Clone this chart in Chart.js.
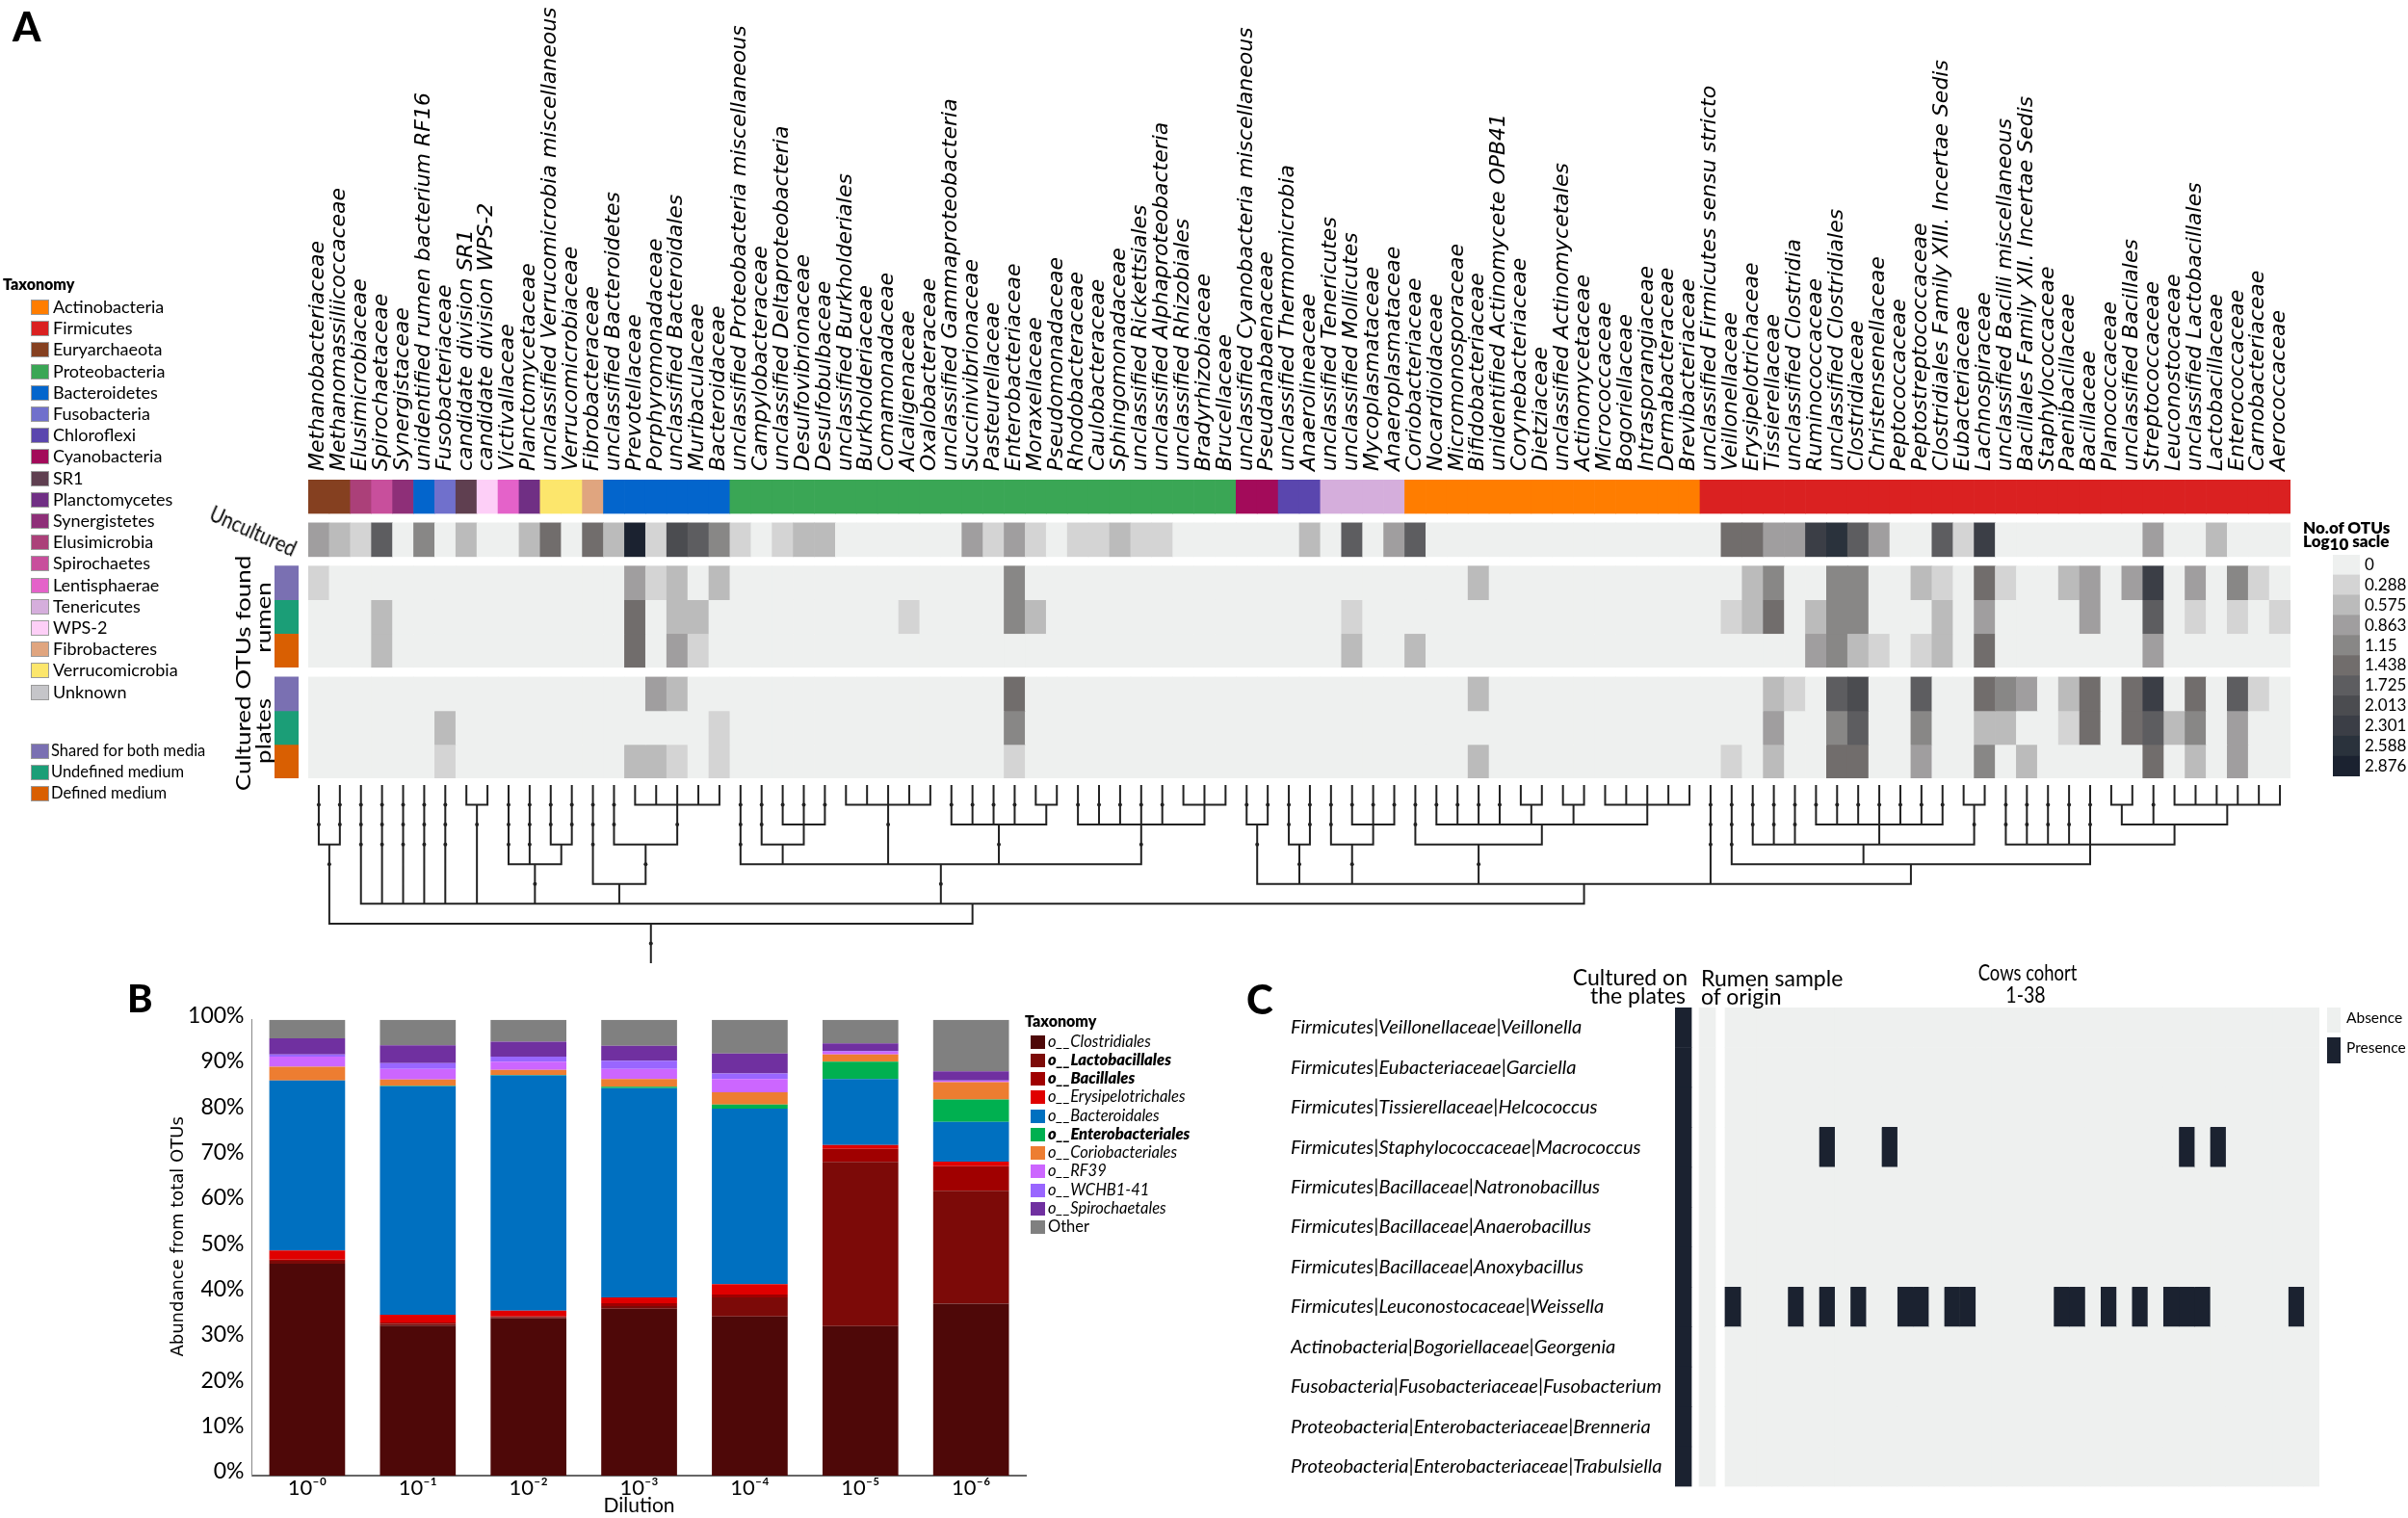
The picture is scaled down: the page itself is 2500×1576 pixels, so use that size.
<!DOCTYPE html>
<html><head><meta charset="utf-8">
<style>
html,body{margin:0;padding:0;background:#fff;width:2500px;height:1576px;overflow:hidden}
canvas{position:absolute;left:0;top:0}
.t{position:absolute;white-space:nowrap;font-family:Lato,sans-serif;color:#000;line-height:1}
.s{position:absolute;box-sizing:border-box}
sub{font-size:1em;line-height:0;vertical-align:-0.18em}
</style>
<script src="https://cdn.jsdelivr.net/npm/chart.js@4"></script>
</head><body>
<script>
/* ---------- DATA ---------- */
const families = ["Methanobacteriaceae","Methanomassiliicoccaceae","Elusimicrobiaceae","Spirochaetaceae","Synergistaceae","unidentified rumen bacterium RF16","Fusobacteriaceae","candidate division SR1","candidate division WPS-2","Victivallaceae","Planctomycetaceae","unclassified Verrucomicrobia miscellaneous","Verrucomicrobiaceae","Fibrobacteraceae","unclassified Bacteroidetes","Prevotellaceae","Porphyromonadaceae","unclassified Bacteroidales","Muribaculaceae","Bacteroidaceae","unclassified Proteobacteria miscellaneous","Campylobacteraceae","unclassified Deltaproteobacteria","Desulfovibrionaceae","Desulfobulbaceae","unclassified Burkholderiales","Burkholderiaceae","Comamonadaceae","Alcaligenaceae","Oxalobacteraceae","unclassified Gammaproteobacteria","Succinivibrionaceae","Pasteurellaceae","Enterobacteriaceae","Moraxellaceae","Pseudomonadaceae","Rhodobacteraceae","Caulobacteraceae","Sphingomonadaceae","unclassified Rickettsiales","unclassified Alphaproteobacteria","unclassified Rhizobiales","Bradyrhizobiaceae","Brucellaceae","unclassified Cyanobacteria miscellaneous","Pseudanabaenaceae","unclassified Thermomicrobia","Anaerolineaceae","unclassified Tenericutes","unclassified Mollicutes","Mycoplasmataceae","Anaeroplasmataceae","Coriobacteriaceae","Nocardioidaceae","Micromonosporaceae","Bifidobacteriaceae","unidentified Actinomycete OPB41","Corynebacteriaceae","Dietziaceae","unclassified Actinomycetales","Actinomycetaceae","Micrococcaceae","Bogoriellaceae","Intrasporangiaceae","Dermabacteraceae","Brevibacteriaceae","unclassified Firmicutes sensu stricto","Veillonellaceae","Erysipelotrichaceae","Tissierellaceae","unclassified Clostridia","Ruminococcaceae","unclassified Clostridiales","Clostridiaceae","Christensenellaceae","Peptococcaceae","Peptostreptococcaceae","Clostridiales Family XIII. Incertae Sedis","Eubacteriaceae","Lachnospiraceae","unclassified Bacilli miscellaneous","Bacillales Family XII. Incertae Sedis","Staphylococcaceae","Paenibacillaceae","Bacillaceae","Planococcaceae","unclassified Bacillales","Streptococcaceae","Leuconostocaceae","unclassified Lactobacillales","Lactobacillaceae","Enterococcaceae","Carnobacteriaceae","Aerococcaceae"];
const phylumNames = ["Actinobacteria","Firmicutes","Euryarchaeota","Proteobacteria","Bacteroidetes","Fusobacteria","Chloroflexi","Cyanobacteria","SR1","Planctomycetes","Synergistetes","Elusimicrobia","Spirochaetes","Lentisphaerae","Tenericutes","WPS-2","Fibrobacteres","Verrucomicrobia","Unknown"];
const phylumColors = ["#ff7d00","#da2121","#854020","#3aa655","#0365cc","#7070cc","#5a46ae","#a30b5a","#5f3f50","#702f84","#8e2f78","#ab4079","#c84f9c","#e462c9","#d5aedc","#fdcff7","#e0a57f","#fce66c","#c5c5c9"];
const phylumRuns = [["Euryarchaeota",2],["Elusimicrobia",1],["Spirochaetes",1],["Synergistetes",1],["Bacteroidetes",1],["Fusobacteria",1],["SR1",1],["WPS-2",1],["Lentisphaerae",1],["Planctomycetes",1],["Verrucomicrobia",2],["Fibrobacteres",1],["Bacteroidetes",6],["Proteobacteria",24],["Cyanobacteria",2],["Chloroflexi",2],["Tenericutes",4],["Actinobacteria",14],["Firmicutes",28]];
const scaleLabels = ["0","0.288","0.575","0.863","1.15","1.438","1.725","2.013","2.301","2.588","2.876"];
const scaleColors = ["#eef0ef","#d4d4d4","#bbbbbb","#a09e9f","#888786","#716d6c","#5d5d60","#4b4c50","#3b3e46","#2a323c","#1b2230"];
/* heat rows: [family number, colour-scale step] for the non-zero cells */
const uncultured = [[1,3],[2,2],[3,1],[4,6],[6,4],[8,2],[11,2],[12,5],[14,5],[15,2],[16,10],[17,1],[18,7],[19,6],[20,4],[21,1],[23,1],[24,2],[25,2],[32,3],[33,1],[34,3],[35,1],[37,1],[38,1],[39,2],[40,1],[41,1],[48,2],[50,6],[52,3],[53,6],[68,5],[69,5],[70,3],[71,3],[72,8],[73,9],[74,6],[75,3],[78,6],[79,1],[80,8],[88,3],[91,2]];
const rumenShared = [[1,1],[16,3],[17,1],[18,2],[20,2],[34,4],[56,2],[69,2],[70,4],[73,4],[74,4],[77,2],[78,1],[80,5],[81,1],[84,2],[85,3],[87,3],[88,8],[90,3],[92,4],[93,1]];
const rumenUndefined = [[4,2],[16,5],[18,2],[19,2],[29,1],[34,4],[35,2],[50,1],[68,1],[69,2],[70,5],[72,2],[73,4],[74,4],[78,2],[80,3],[85,3],[88,6],[90,1],[92,1],[94,1]];
const rumenDefined = [[4,2],[16,5],[18,3],[19,1],[50,2],[53,2],[72,3],[73,4],[74,2],[75,1],[77,1],[78,2],[80,5],[88,3]];
const platesShared = [[17,3],[18,2],[34,5],[56,2],[70,2],[71,1],[73,6],[74,7],[77,6],[80,5],[81,4],[82,3],[84,2],[85,5],[87,5],[88,8],[90,5],[92,6],[93,1]];
const platesUndefined = [[7,2],[20,1],[34,4],[70,3],[73,4],[74,6],[77,4],[80,2],[81,2],[84,1],[85,5],[87,5],[88,6],[89,2],[90,4],[92,3]];
const platesDefined = [[7,1],[16,2],[17,2],[18,1],[20,1],[34,1],[56,2],[68,1],[70,2],[73,5],[74,5],[77,3],[80,4],[82,2],[88,5],[90,2],[92,3]];
const mediaNames = ["Shared for both media","Undefined medium","Defined medium"];
const mediaColors = ["#7a70b2","#1b9e77","#d95f02"];
/* dendrogram: [merge level, children...] where a child is a family number or a sub-node */
const dendrogramTree = [7,[3,1,2],[6,3,4,5,6,7,[1,8,9],[4,10,11,[3,12,13]],[5,14,[3,15,[1,16,17,18,19,20]]],
 [4,21,[3,22,[2,23,24,25]],[1,26,27,28,29,30],[2,31,32,33,34,[1,35,36]],[2,37,38,39,40,41,[1,42,43,44]]],
 [5,[2,45,46],[3,47,48],[3,49,[2,50,51,52]],[3,53,[2,54,55,56,57,[1,58,59],[1,60,61],[1,62,63,64,65,66]]],67,
  [4,68,[3,69,70,71,[2,72,73,74,75,76,77,78],[1,79,80]],[3,81,82,83,84,85,[2,[1,86,87],88,[1,89,90,91,92,93,94]]]]]]];
/* panel B */
const dilutions = ["10\u207B\u2070","10\u207B\u00B9","10\u207B\u00B2","10\u207B\u00B3","10\u207B\u2074","10\u207B\u2075","10\u207B\u2076"];
const orders = ["o__Clostridiales","o__Lactobacillales","o__Bacillales","o__Erysipelotrichales","o__Bacteroidales","o__Enterobacteriales","o__Coriobacteriales","o__RF39","o__WCHB1-41","o__Spirochaetales","Other"];
const orderColors = ["#4e0808","#7c0a08","#a00000","#e00000","#0070c0","#00b050","#ed7d31","#cc66ff","#9966ff","#7030a0","#808080"];
const clostridiales = [46.5,32.9,34.5,36.6,34.9,32.8,37.7];
const lactobacillales = [0.6,0.4,0.3,0.6,4.2,36,24.8];
const bacillales = [0.3,0.3,0.1,0.6,0.6,2.9,5.4];
const erysipelotrichales = [2,1.7,1.3,1.3,2.3,0.8,1];
const bacteroidales = [37.3,50.1,51.6,45.9,38.5,14.5,8.7];
const enterobacteriales = [0,0.1,0.1,0.3,0.9,3.8,4.9];
const coriobacteriales = [3,1.4,1.1,1.7,2.7,1.6,3.8];
const rf39 = [2.2,2.3,1.8,2.2,2.9,0.6,0.3];
const wchb141 = [0.5,1.3,1.1,1.8,1.2,0.2,0.1];
const spirochaetales = [3.5,3.9,3.3,3.3,4.4,1.6,2];
const other = [4.1,5.6,4.8,5.7,7.4,5.2,11.3];
/* panel C */
const genera = ["Firmicutes|Veillonellaceae|Veillonella","Firmicutes|Eubacteriaceae|Garciella","Firmicutes|Tissierellaceae|Helcococcus","Firmicutes|Staphylococcaceae|Macrococcus","Firmicutes|Bacillaceae|Natronobacillus","Firmicutes|Bacillaceae|Anaerobacillus","Firmicutes|Bacillaceae|Anoxybacillus","Firmicutes|Leuconostocaceae|Weissella","Actinobacteria|Bogoriellaceae|Georgenia","Fusobacteria|Fusobacteriaceae|Fusobacterium","Proteobacteria|Enterobacteriaceae|Brenneria","Proteobacteria|Enterobacteriaceae|Trabulsiella"];
const culturedOnPlates = [1,1,1,1,1,1,1,1,1,1,1,1];
const rumenOrigin = [0,0,0,0,0,0,0,0,0,0,0,0];
const macrococcusCows = [7,11,30,32];
const weissellaCows = [1,5,7,9,12,13,15,16,22,23,25,27,29,30,31,37];

/* ---------- HELPERS ---------- */
function makeChart(config){
  const c=document.createElement('canvas');c.width=2500;c.height=1576;c.style.width='2500px';c.style.height='1576px';
  document.body.appendChild(c);
  config.options=Object.assign({responsive:false,devicePixelRatio:1,animation:false,events:[],plugins:{legend:{display:false},tooltip:{enabled:false}}},config.options);
  return new Chart(c,config);
}
const box=(l,t,r,b)=>({left:l,top:t,right:2500-r,bottom:1576-b});
function T(html,x,y,o={}){
  const d=document.createElement('div');d.className='t';d.innerHTML=html;
  d.style.left=x+'px';d.style.top=y+'px';d.style.fontSize=(o.size||17)+'px';
  if(o.bold)d.style.fontWeight=o.bold;if(o.italic)d.style.fontStyle='italic';if(o.family)d.style.fontFamily=o.family;
  const ax=o.anchor==='c'?'-50%':(o.anchor==='r'?'-100%':'0');
  d.style.transform=`translate(${ax},-50%) rotate(${o.rot||0}deg)`+(o.sx?` scaleX(${o.sx})`:'');
  if(o.sx)d.style.transformOrigin=o.anchor==='c'?'center':(o.anchor==='r'?'right':'left');
  document.body.appendChild(d);
}
function S(x,y,w,h,col,border){
  const d=document.createElement('div');d.className='s';
  d.style.cssText+=`left:${x}px;top:${y}px;width:${w}px;height:${h}px;background:${col};`+(border?`border:1px solid ${border};`:'');
  document.body.appendChild(d);
}

/* ---------- PANEL A: heat map ---------- */
const cellPhylum=[];phylumRuns.forEach(([n,k])=>{for(let i=0;i<k;i++)cellPhylum.push(n)});
const bands={phylum:[0,1],uncultured:[1.28,2.28],rs:[2.56,3.56],ru:[3.56,4.56],rd:[4.56,5.56],ps:[5.85,6.85],pu:[6.85,7.85],pd:[7.85,8.85]};
function heatDataset(band,sparse){
  const lv=new Array(families.length).fill(0);sparse.forEach(([f,s])=>lv[f-1]=s);
  return {data:families.map(()=>band),backgroundColor:lv.map(s=>scaleColors[s]),grouped:false,barPercentage:1,categoryPercentage:1,borderWidth:0};
}
const aBandAxis={display:false,reverse:true,min:0,max:8.85};
makeChart({type:'bar',data:{labels:families,datasets:[
  {data:families.map(()=>bands.phylum),backgroundColor:cellPhylum.map(n=>phylumColors[phylumNames.indexOf(n)]),grouped:false,barPercentage:1,categoryPercentage:1,borderWidth:0},
  heatDataset(bands.uncultured,uncultured),
  heatDataset(bands.rs,rumenShared),heatDataset(bands.ru,rumenUndefined),heatDataset(bands.rd,rumenDefined),
  heatDataset(bands.ps,platesShared),heatDataset(bands.pu,platesUndefined),heatDataset(bands.pd,platesDefined)
]},options:{layout:{padding:box(320,0,2378,808)},scales:{
  x:{position:'top',grid:{display:false,drawTicks:false},border:{display:false},
     afterFit:s=>{s.height=498},
     ticks:{autoSkip:false,minRotation:90,maxRotation:90,padding:9,labelOffset:26,color:'#000',font:{family:'DejaVu Sans',style:'italic',size:22}}},
  y:aBandAxis}}});

/* media side strips */
const sideBands=[bands.rs,bands.ru,bands.rd,bands.ps,bands.pu,bands.pd];
makeChart({type:'bar',data:{labels:['media'],datasets:sideBands.map((b,i)=>({data:[b],backgroundColor:mediaColors[i%3],grouped:false,barPercentage:1,categoryPercentage:1,borderWidth:0}))},
  options:{layout:{padding:box(285,498,310,808)},scales:{x:{display:false},y:aBandAxis}}});

/* colour scale */
makeChart({type:'bar',data:{labels:scaleLabels,datasets:[{data:scaleLabels.map(()=>1),backgroundColor:scaleColors,barPercentage:1,categoryPercentage:1,borderWidth:0}]},
  options:{indexAxis:'y',layout:{padding:box(2422,576,2500,806)},scales:{
    x:{display:false,min:0,max:1},
    y:{position:'right',grid:{display:false,drawTicks:false},border:{display:false},afterFit:s=>{s.width=50},
       ticks:{padding:5,color:'#000',font:{family:'Lato',size:17},autoSkip:false}}}}});

/* dendrogram */
const segs=[],dots=[];
function walk(node){
  if(typeof node==='number')return {x:node,l:0,leaf:true};
  const lvl=node[0],kids=node.slice(1).map(walk),first=kids[0].x,last=kids[kids.length-1].x;
  kids.forEach(k=>{
    segs.push({x:k.x,y:k.l},{x:k.x,y:lvl},{x:NaN,y:NaN});
    if(k.leaf){for(let v=1;v<lvl&&v<=3;v++)dots.push({x:k.x,y:v});}
    else if(k.l+1<lvl)dots.push({x:k.x,y:k.l+1});
  });
  segs.push({x:first,y:lvl},{x:last,y:lvl},{x:NaN,y:NaN});
  return {x:(first+last)/2,l:lvl};
}
const rootNode=walk(dendrogramTree);
segs.push({x:rootNode.x,y:rootNode.l},{x:rootNode.x,y:9});
dots.push({x:rootNode.x,y:8});
makeChart({type:'scatter',data:{datasets:[
  {data:segs,showLine:true,spanGaps:false,pointRadius:0,borderColor:'#222',borderWidth:2,borderCapStyle:'square',tension:0},
  {data:dots,showLine:false,pointRadius:2,backgroundColor:'#222',borderWidth:0}]},
  options:{layout:{padding:box(320,815,2378,1000)},scales:{
    x:{display:false,type:'linear',min:0.5,max:94.5},
    y:{display:false,type:'linear',min:0,max:9,reverse:true}}}});

/* ---------- PANEL B ---------- */
const orderSeries=[clostridiales,lactobacillales,bacillales,erysipelotrichales,bacteroidales,enterobacteriales,coriobacteriales,rf39,wchb141,spirochaetales,other];
makeChart({type:'bar',data:{labels:dilutions,datasets:orderSeries.map((v,i)=>({label:orders[i],data:v,backgroundColor:orderColors[i],borderWidth:0,barPercentage:0.685,categoryPercentage:1}))},
  options:{layout:{padding:box(175,1058.7,1065.6,1576)},scales:{
    x:{stacked:true,grid:{display:false,drawTicks:false},border:{color:'#666',width:2},afterFit:s=>{s.height=44},
       title:{display:true,text:'Dilution',color:'#000',font:{family:'Lato',size:21},padding:0},
       ticks:{padding:0,color:'#000',font:{family:'Lato, DejaVu Sans',size:22}}},
    y:{stacked:true,min:0,max:100,grid:{display:false,drawTicks:false},border:{color:'#888',width:1},afterFit:s=>{s.width=86.5},
       title:{display:true,text:'    Abundance from total OTUs',color:'#000',font:{family:'DejaVu Sans',size:18},padding:0},
       ticks:{stepSize:10,padding:8,labelOffset:-4,color:'#000',font:{family:'Lato',size:23},callback:v=>v+'%'}}}}});

/* ---------- PANEL C ---------- */
const colW=1;const plateCol=[0,1.05],rumenCol=[1.54,2.59],cowStart=3.2,cowCount=38;
const cPres=scaleColors[10],cAbs=scaleColors[0];
const cDatasets=[
  {data:genera.map(()=>plateCol),backgroundColor:culturedOnPlates.map(v=>v?cPres:cAbs)},
  {data:genera.map(()=>rumenCol),backgroundColor:rumenOrigin.map(v=>v?cPres:cAbs)}];
for(let c=1;c<=cowCount;c++){
  cDatasets.push({data:genera.map(()=>[cowStart+(c-1)*colW,cowStart+c*colW]),
    backgroundColor:genera.map((g,r)=>((r===3&&macrococcusCows.includes(c))||(r===7&&weissellaCows.includes(c)))?cPres:cAbs)});
}
cDatasets.forEach(d=>Object.assign(d,{grouped:false,barPercentage:1,categoryPercentage:1,borderWidth:0}));
makeChart({type:'bar',data:{labels:genera,datasets:cDatasets},
  options:{indexAxis:'y',layout:{padding:box(1340,1046,2408,1543.5)},scales:{
    x:{display:false,type:'linear',min:0,max:41.2},
    y:{grid:{display:false,drawTicks:false},border:{display:false},afterFit:s=>{s.width=399},
       ticks:{crossAlign:'far',autoSkip:false,color:'#000',font:{family:'Lato',style:'italic',size:20}}}}}});

/* ---------- ANNOTATIONS AND LEGENDS ---------- */
T('A',13,27,{size:42,bold:900});T('B',132,1036,{size:40,bold:900});T('C',1294,1037,{size:42,bold:900});
T('Taxonomy',3,295,{size:16,bold:800});
phylumNames.forEach((n,i)=>{const y=318+i*22.2;S(32,y-7,19,16,phylumColors[i],'#9a9a9a');T(n,55,y,{size:18});});
mediaNames.forEach((n,i)=>{const y=779+i*22;S(32,y-7,19,16,mediaColors[i],'#9a9a9a');T(n,53,y,{size:16.5});});
T('Uncultured',263,551,{size:23,anchor:'c',rot:24,sx:0.85});
T('Cultured OTUs found',251,699,{size:21,anchor:'c',rot:-90,sx:1.24});
T('rumen',272,641,{size:21,anchor:'c',rot:-90,sx:1.24});
T('plates',272,759,{size:21,anchor:'c',rot:-90,sx:1.24});
T('No.of OTUs',2391,547,{size:17,bold:800});
T('Log<sub>10</sub> sacle',2391,561,{size:17,bold:800});
T('Taxonomy',1064,1060,{size:16,bold:800});
orders.forEach((n,i)=>{const y=1080.5+i*19.25;S(1070,y-6,15,14,orderColors[i]);
  T(n,1088,y,{size:16.5,italic:i<10,bold:[1,2,5].includes(i)?800:0});});
T('Cultured on',1752,1014,{size:23,anchor:'r'});T('the plates',1750,1033,{size:23,anchor:'r'});
T('Rumen sample',1766,1015,{size:23});T('of origin',1766,1034,{size:23});
T('Cows cohort',2105,1009,{size:23,anchor:'c',sx:0.8});T('1-38',2103,1032,{size:23,anchor:'c',sx:0.85});
S(2416,1046,13.5,25.5,cAbs);S(2416,1077.4,13.5,26.2,cPres);
T('Absence',2436,1056.5,{size:15.5});T('Presence',2436,1088,{size:15.5});
</script>
</body></html>
